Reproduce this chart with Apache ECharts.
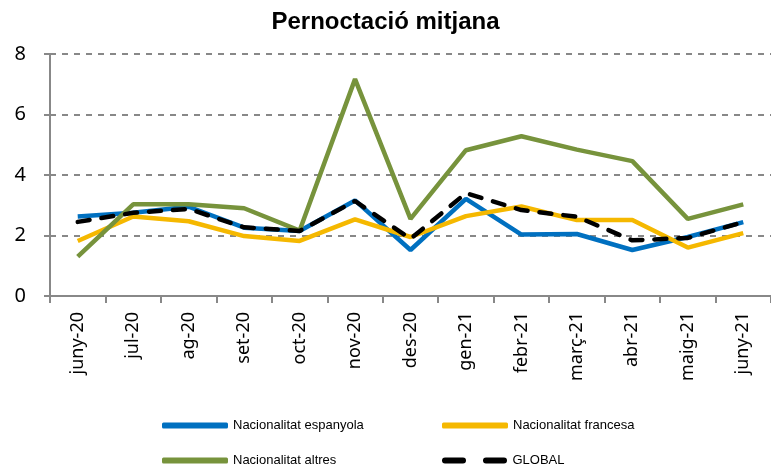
<!DOCTYPE html>
<html>
<head>
<meta charset="utf-8">
<script src="https://cdn.jsdelivr.net/npm/echarts@6/dist/echarts.min.js"></script>
<style>html,body{margin:0;padding:0;background:#fff}#c{width:771px;height:470px}</style>
</head>
<body>
<div id="c"></div>
<script>
const categories = ['juny-20','jul-20','ag-20','set-20','oct-20','nov-20','des-20','gen-21','febr-21','març-21','abr-21','maig-21','juny-21'];
const espanyola = [2.63, 2.75, 2.95, 2.26, 2.15, 3.16, 1.52, 3.21, 2.03, 2.05, 1.52, 1.95, 2.44];
const francesa  = [1.82, 2.63, 2.47, 1.98, 1.82, 2.53, 1.95, 2.64, 2.96, 2.51, 2.51, 1.60, 2.08];
const altres    = [1.30, 3.03, 3.03, 2.90, 2.16, 7.17, 2.55, 4.82, 5.28, 4.84, 4.46, 2.55, 3.03];
const global    = [2.45, 2.75, 2.88, 2.27, 2.15, 3.14, 1.89, 3.40, 2.84, 2.62, 1.84, 1.92, 2.44];
const yTicks = [0, 2, 4, 6, 8];

const chart = echarts.init(document.getElementById('c'), null, {renderer: 'canvas'});
const legendText = {fontFamily: 'Liberation Sans Narrow, Liberation Sans, sans-serif', fontSize: 13, color: '#000'};
function mkLegend(name, left, top, icon) {
  return {
    data: [name], left: left, top: top, itemWidth: 66, itemHeight: 6, itemGap: 0,
    textStyle: legendText, icon: icon || 'roundRect'
  };
}
function line(name, data, color, dashed) {
  return {
    name: name, type: 'line', data: data, symbol: 'none', smooth: false,
    lineStyle: {color: color, width: 4.5, type: dashed ? [12, 12] : 'solid', cap: dashed ? 'round' : 'butt'},
    itemStyle: {color: color}, z: dashed ? 5 : 3
  };
}
chart.setOption({
  animation: false,
  title: {text: 'Pernoctació mitjana', left: 'center', top: 5,
    textStyle: {fontFamily: 'Liberation Sans, Arial, sans-serif', fontWeight: 'bold', fontSize: 24, color: '#000'}},
  legend: [
    mkLegend('Nacionalitat espanyola', 157, 414),
    mkLegend('Nacionalitat francesa', 437, 414),
    mkLegend('Nacionalitat altres', 157, 449),
    mkLegend('GLOBAL', 437, 449, 'path://M3,0h18a3,3 0 0 1 0,6h-18a3,3 0 0 1 0,-6z M44,0h18a3,3 0 0 1 0,6h-18a3,3 0 0 1 0,-6z')
  ],
  grid: {left: 50, top: 54, width: 725, height: 242, containLabel: false},
  xAxis: {
    type: 'category', data: categories, boundaryGap: true,
    axisLine: {lineStyle: {color: '#888', width: 2}},
    axisTick: {show: true, length: 7, lineStyle: {color: '#888', width: 2}, alignWithLabel: false},
    axisLabel: {rotate: 90, fontFamily: 'Noto Sans, sans-serif', fontSize: 18, color: '#000', margin: 16, interval: 0}
  },
  yAxis: {
    type: 'value', min: 0, max: 8, interval: 2,
    axisLine: {show: true, lineStyle: {color: '#888', width: 2}},
    axisTick: {show: true, length: 6, lineStyle: {color: '#888', width: 2}},
    axisLabel: {fontFamily: 'Noto Sans, sans-serif', fontSize: 20, color: '#000', margin: 24,
      formatter: v => yTicks.includes(v) ? String(v) : ''},
    splitLine: {show: true, lineStyle: {color: '#888', width: 2, type: [6, 6]}}
  },
  series: [
    line('Nacionalitat espanyola', espanyola, '#0070C0'),
    line('Nacionalitat francesa', francesa, '#F5B800'),
    line('Nacionalitat altres', altres, '#77933C'),
    line('GLOBAL', global, '#000000', true)
  ]
});
</script>
</body>
</html>
